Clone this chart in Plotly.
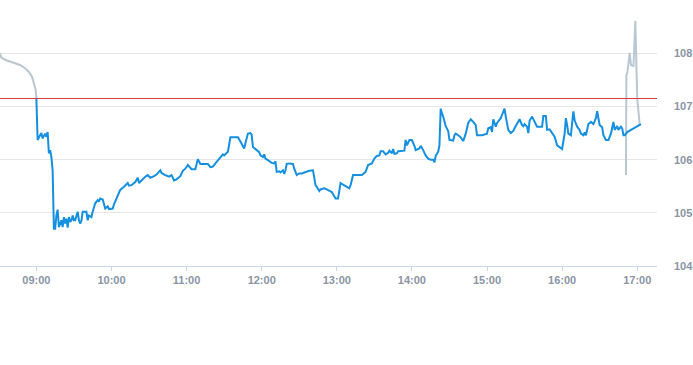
import plotly.graph_objects as go

DAY = "2024-05-14 "

# Pre-market (grey)
pre_times = ["08:31:00", "08:32:00", "08:36:00", "08:41:00", "08:47:00", "08:51:00",
             "08:54:00", "08:56:30", "08:58:20", "08:59:25", "09:00:00"]
pre_prices = [108.00, 107.92, 107.87, 107.83, 107.78, 107.72,
              107.65, 107.56, 107.43, 107.32, 107.17]

# Regular session (blue)
reg_times = [
    "09:00", "09:01", "09:03", "09:04", "09:05", "09:07", "09:08", "09:09", "09:10", "09:11",
    "09:12", "09:13", "09:14", "09:15", "09:16", "09:17", "09:18", "09:20", "09:21", "09:22",
    "09:23", "09:24", "09:25", "09:26", "09:27", "09:28", "09:29", "09:30", "09:31", "09:32",
    "09:33", "09:34", "09:35", "09:36", "09:37", "09:40", "09:41", "09:42", "09:44", "09:45",
    "09:47", "09:49", "09:50", "09:51", "09:53", "09:55", "09:57", "09:58", "10:01", "10:02",
    "10:05", "10:07", "10:10", "10:13", "10:14", "10:16", "10:19", "10:21", "10:22", "10:24",
    "10:27", "10:29", "10:31", "10:34", "10:36", "10:39", "10:40", "10:43", "10:46", "10:48",
    "10:50", "10:52", "10:55", "10:57", "10:59", "11:01", "11:03", "11:04", "11:07", "11:09",
    "11:11", "11:13", "11:17", "11:19", "11:21", "11:24", "11:27", "11:29", "11:30", "11:33",
    "11:35", "11:41", "11:43", "11:46", "11:47", "11:49", "11:51", "11:52", "11:53", "11:55",
    "11:58", "11:59", "12:01", "12:02", "12:03", "12:05", "12:08", "12:10", "12:11", "12:12",
    "12:14", "12:15", "12:17", "12:18", "12:19", "12:20", "12:22", "12:25", "12:26", "12:28",
    "12:30", "12:32", "12:35", "12:38", "12:41", "12:43", "12:44", "12:46", "12:47", "12:50",
    "12:52", "12:56", "12:59", "13:01", "13:03", "13:05", "13:08", "13:10", "13:11", "13:13",
    "13:20", "13:23", "13:25", "13:28", "13:30", "13:32", "13:34", "13:35", "13:37", "13:39",
    "13:41", "13:42", "13:44", "13:45", "13:46", "13:48", "13:49", "13:52", "13:54", "13:55",
    "13:56", "13:58", "14:00", "14:02", "14:03", "14:06", "14:07", "14:09", "14:11", "14:13",
    "14:15", "14:17", "14:18", "14:19", "14:21", "14:22", "14:23", "14:24", "14:25", "14:27",
    "14:29", "14:30", "14:33", "14:34", "14:35", "14:37", "14:39", "14:41", "14:43", "14:45",
    "14:47", "14:49", "14:51", "14:52", "14:56", "15:00", "15:01", "15:03", "15:04", "15:05",
    "15:07", "15:08", "15:11", "15:12", "15:14", "15:15", "15:17", "15:19", "15:21", "15:22",
    "15:24", "15:26", "15:28", "15:29", "15:30", "15:32", "15:33", "15:34", "15:36", "15:37",
    "15:38", "15:40", "15:44", "15:45", "15:47", "15:48", "15:50", "15:52", "15:54", "15:56",
    "15:58", "16:00", "16:02", "16:03", "16:04", "16:05", "16:07", "16:08", "16:09", "16:10",
    "16:12", "16:14", "16:15", "16:17", "16:18", "16:19", "16:21", "16:23", "16:25", "16:27",
    "16:28", "16:29", "16:30", "16:32", "16:33", "16:35", "16:37", "16:39", "16:40", "16:41",
    "16:42", "16:44", "16:45", "16:47", "16:48", "16:49", "16:50", "16:52", "17:03",
]
reg_prices = [
    107.17, 106.37, 106.46, 106.50, 106.40, 106.49, 106.43, 106.52, 106.12, 106.18,
    106.05, 105.80, 104.70, 104.70, 104.95, 105.06, 104.73, 104.86, 104.73, 104.92,
    104.80, 104.89, 104.72, 104.92, 104.83, 104.86, 104.95, 104.86, 104.86, 104.95,
    105.02, 104.86, 104.80, 104.85, 105.02, 105.02, 104.86, 104.95, 104.92, 105.02,
    105.18, 105.24, 105.21, 105.27, 105.25, 105.08, 105.12, 105.07, 105.08, 105.16,
    105.31, 105.43, 105.49, 105.56, 105.51, 105.52, 105.58, 105.66, 105.56, 105.61,
    105.68, 105.71, 105.66, 105.69, 105.72, 105.80, 105.75, 105.71, 105.68, 105.71,
    105.61, 105.63, 105.69, 105.79, 105.83, 105.90, 105.83, 105.82, 105.82, 106.01,
    105.92, 105.92, 105.92, 105.86, 105.87, 105.96, 106.05, 106.10, 106.08, 106.15,
    106.42, 106.42, 106.34, 106.21, 106.31, 106.49, 106.50, 106.47, 106.24, 106.20,
    106.14, 106.08, 106.05, 106.10, 106.02, 105.99, 105.94, 105.93, 105.97, 105.77,
    105.78, 105.76, 105.80, 105.73, 105.80, 105.92, 105.93, 105.92, 105.83, 105.71,
    105.74, 105.74, 105.77, 105.79, 105.80, 105.52, 105.49, 105.41, 105.44, 105.46,
    105.44, 105.39, 105.27, 105.27, 105.56, 105.53, 105.50, 105.46, 105.52, 105.71,
    105.71, 105.77, 105.90, 105.93, 106.02, 106.07, 106.08, 106.16, 106.16, 106.10,
    106.13, 106.17, 106.12, 106.20, 106.11, 106.12, 106.16, 106.17, 106.17, 106.37,
    106.27, 106.37, 106.37, 106.26, 106.18, 106.21, 106.26, 106.18, 106.08, 106.02,
    106.00, 106.00, 105.95, 106.07, 106.15, 106.27, 106.96, 106.87, 106.81, 106.63,
    106.54, 106.37, 106.36, 106.46, 106.49, 106.46, 106.42, 106.35, 106.49, 106.69,
    106.76, 106.71, 106.65, 106.46, 106.46, 106.49, 106.59, 106.61, 106.52, 106.76,
    106.62, 106.69, 106.78, 106.84, 106.96, 106.81, 106.56, 106.50, 106.54, 106.59,
    106.69, 106.76, 106.65, 106.63, 106.67, 106.62, 106.50, 106.73, 106.81, 106.76,
    106.74, 106.62, 106.62, 106.82, 106.82, 106.56, 106.57, 106.50, 106.43, 106.27,
    106.24, 106.20, 106.49, 106.78, 106.65, 106.49, 106.46, 106.68, 106.91, 106.74,
    106.62, 106.56, 106.49, 106.46, 106.51, 106.46, 106.67, 106.71, 106.67, 106.78,
    106.91, 106.78, 106.65, 106.61, 106.46, 106.37, 106.37, 106.49, 106.59, 106.71,
    106.56, 106.63, 106.56, 106.62, 106.59, 106.46, 106.46, 106.52, 106.67,
]

# After-hours (grey)
post_times = ["16:51:00", "16:51:20", "16:52:00", "16:54:00", "16:55:00", "16:57:00",
              "16:58:30", "17:00:00", "17:02:00"]
post_prices = [105.71, 107.59, 107.62, 108.01, 107.78, 107.76,
               108.61, 107.15, 106.65]

prev_close = 107.15
y_ticks = [104, 105, 106, 107, 108]
x_ticks = ["09:00", "10:00", "11:00", "12:00", "13:00", "14:00", "15:00", "16:00", "17:00"]

BLUE = "#158fe0"
GREY = "#bac7d1"
LABEL = "#8a94a4"

fig = go.Figure()
fig.add_trace(go.Scatter(x=[DAY + t for t in pre_times], y=pre_prices, mode="lines",
                         line=dict(color=GREY, width=2), hoverinfo="skip", showlegend=False))
fig.add_trace(go.Scatter(x=[DAY + t for t in post_times], y=post_prices, mode="lines",
                         line=dict(color=GREY, width=2), hoverinfo="skip", showlegend=False))
fig.add_trace(go.Scatter(x=[DAY + t for t in reg_times], y=reg_prices, mode="lines",
                         line=dict(color=BLUE, width=2), showlegend=False))

fig.add_shape(type="line", xref="paper", x0=0, x1=1, yref="y", y0=prev_close, y1=prev_close,
              line=dict(color="#e0383e", width=1))

fig.update_layout(
    width=693, height=365,
    margin=dict(l=0, r=30, t=10, b=99),
    paper_bgcolor="white", plot_bgcolor="white",
    font=dict(family="Liberation Sans, Arial, sans-serif"),
    xaxis=dict(
        type="date",
        range=[DAY + "08:30:57", DAY + "17:15:48"],
        tickvals=[DAY + t for t in x_ticks],
        ticktext=x_ticks,
        showgrid=False, zeroline=False,
        showline=True, linecolor="#ccd6eb", linewidth=1,
        ticks="outside", ticklen=4, tickcolor="#ccd6eb",
        tickfont=dict(size=11, color=LABEL, weight="bold"),
    ),
    yaxis=dict(
        side="right",
        range=[104, 108.815],
        tickvals=y_ticks,
        showgrid=True, gridcolor="#e6e6e6", gridwidth=1,
        zeroline=False, showline=False, ticks="",
        ticklabelstandoff=16,
        tickfont=dict(size=11, color=LABEL, weight="bold"),
    ),
)

fig.write_html("out.html", config={"displayModeBar": False},
               post_script="document.body.style.margin='0';")
